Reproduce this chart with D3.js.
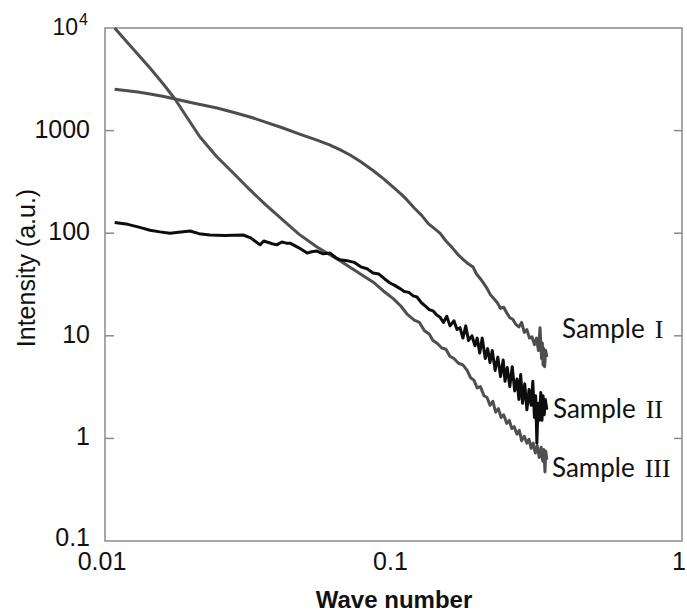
<!DOCTYPE html>
<html lang="en">
<head>
  <meta charset="utf-8">
  <title>Intensity vs wave number</title>
  <script type="text/javascript" src="https://cdn.jsdelivr.net/npm/d3@7"></script>
  <style>
    body { margin: 0; background: #fff; }
    svg { display: block; }
  </style>
</head>
<body>
<script type="text/javascript">
// wave number (x) and intensity (y)
let qI = [0.0108, 0.0130, 0.01432, 0.0160, 0.01748, 0.0200, 0.02445, 0.0280, 0.03182, 0.0360,
  0.0414, 0.0470, 0.0543, 0.0600, 0.0652, 0.0707, 0.0770, 0.0849, 0.0920, 0.1000,
  0.1060, 0.1114, 0.1180, 0.1250, 0.1320, 0.1380, 0.1449, 0.1520, 0.1600, 0.1680,
  0.1750, 0.1820, 0.1886, 0.1940, 0.2000, 0.2060, 0.2110, 0.2170, 0.2230, 0.2290,
  0.2350, 0.2410, 0.2470, 0.2530, 0.2590, 0.2650, 0.2720, 0.2780, 0.2840, 0.2900,
  0.2960, 0.3020, 0.3080, 0.3130, 0.3180, 0.3220, 0.3260, 0.3280, 0.3300, 0.3320,
  0.3340, 0.3370, 0.3400];
let sampleI = [2530, 2380, 2275, 2150, 2032, 1870, 1660, 1500, 1358, 1210,
  1060, 930, 809, 726, 652, 578, 497, 408, 342, 280,
  242, 211, 176, 150, 124, 112, 100, 84, 72, 61,
  55, 50, 46.9, 40, 36, 32, 29, 25, 23, 21,
  18.5, 19, 16.7, 15, 14.5, 13, 12.2, 13.5, 10.8, 11.5,
  9.5, 9.8, 8.2, 9.5, 7.2, 12, 6.0, 8.5, 5.2, 7.5,
  5.0, 7.2, 6.2];

let qII = [0.0108, 0.0120, 0.0132, 0.01432, 0.0155, 0.0168, 0.0180, 0.0197, 0.0212, 0.0231,
  0.0260, 0.0301, 0.0320, 0.0345, 0.0355, 0.0364, 0.0380, 0.0394, 0.0410, 0.0425,
  0.0438, 0.0470, 0.0502, 0.0520, 0.0543, 0.0570, 0.0603, 0.0630, 0.0652, 0.0690,
  0.0730, 0.0770, 0.0810, 0.0849, 0.0890, 0.0930, 0.0972, 0.1010, 0.1050, 0.1090,
  0.1130, 0.1170, 0.1206, 0.1250, 0.1290, 0.1330, 0.1370, 0.1410, 0.1449, 0.1490,
  0.1530, 0.1570, 0.1620, 0.1660, 0.1700, 0.1740, 0.1780, 0.1820, 0.1870, 0.1916,
  0.1950, 0.1990, 0.2030, 0.2080, 0.2120, 0.2160, 0.2200, 0.2250, 0.2300, 0.2350,
  0.2400, 0.2435, 0.2480, 0.2530, 0.2580, 0.2630, 0.2680, 0.2720, 0.2760, 0.2800,
  0.2850, 0.2900, 0.2950, 0.3000, 0.3040, 0.3080, 0.3110, 0.3140, 0.3170, 0.3200,
  0.3240, 0.3270, 0.3300, 0.3330, 0.3360, 0.3400];
let sampleII = [127, 122, 114, 107, 103, 100, 102, 105, 99, 96,
  95, 96, 90, 77, 84, 82, 79, 77, 82, 80,
  80, 72, 64, 66, 67, 63, 64, 58, 55, 54,
  52, 47, 45, 41, 40, 36, 32.7, 31, 29, 27,
  26.5, 24.5, 23.9, 21, 19.5, 18, 17.5, 16, 15.2, 13.5,
  15.5, 12.5, 14, 11.5, 12, 9.5, 12.5, 9, 10, 8,
  9.5, 6.8, 9.5, 6.0, 7.5, 5.5, 7.2, 4.6, 6.2, 4.0,
  5.8, 3.6, 4.9, 3.2, 5.0, 2.9, 3.8, 2.4, 4.2, 2.2,
  3.4, 1.9, 3.0, 2.1, 3.6, 1.6, 2.6, 0.9, 2.2, 1.5,
  2.8, 1.5, 2.6, 1.7, 2.4, 1.9];

let qIII = [0.0108, 0.0120, 0.0132, 0.01432, 0.0160, 0.01748, 0.0190, 0.02134, 0.02445, 0.0280,
  0.03182, 0.0360, 0.0414, 0.0470, 0.0543, 0.0600, 0.0652, 0.0720, 0.0780, 0.0849,
  0.0920, 0.1000, 0.1060, 0.1114, 0.1180, 0.1230, 0.1280, 0.1330, 0.1370, 0.1420,
  0.1470, 0.1520, 0.1570, 0.1620, 0.1680, 0.1740, 0.1800, 0.1850, 0.1900, 0.1950,
  0.2000, 0.2060, 0.2110, 0.2160, 0.2210, 0.2260, 0.2310, 0.2360, 0.2410, 0.2470,
  0.2520, 0.2570, 0.2620, 0.2680, 0.2730, 0.2780, 0.2840, 0.2900, 0.2950, 0.3000,
  0.3050, 0.3100, 0.3150, 0.3200, 0.3250, 0.3290, 0.3320, 0.3350, 0.3370, 0.3400];
let sampleIII = [10000, 7150, 5270, 4074, 2800, 2032, 1420, 866, 553, 380,
  264, 190, 134, 98, 73.4, 62, 54, 45, 39, 33.5,
  27.5, 22.9, 19.5, 16.3, 14.2, 13.5, 11.2, 10.4, 9.0, 8.4,
  7.6, 7.4, 6.3, 6.0, 5.4, 5.2, 4.6, 3.9, 3.7, 3.1,
  3.2, 2.6, 2.5, 2.1, 2.3, 1.8, 1.95, 1.6, 1.7, 1.4,
  1.5, 1.25, 1.3, 1.1, 1.2, 0.95, 1.05, 0.9, 0.98, 0.8,
  0.9, 0.72, 0.85, 0.65, 0.82, 0.6, 0.78, 0.47, 0.75, 0.62];

let seriesNames = ["Sample I", "Sample II", "Sample III"];
let seriesColors = ["#4d4d4d", "#0d0d0d", "#505050"];
let yTicks = [0.1, 1, 10, 100, 1000, 10000];
let yTickLabels = ["0.1", "1", "10", "100", "1000", "10^4"];
let xTicks = [0.01, 0.1, 1];
let xTickLabels = ["0.01", "0.1", "1"];

function drawChart() {
  let w = 687;
  let h = 614;
  let left = 105, right = 682, top = 28, bottom = 541;

  let xScale = d3.scaleLog().domain([0.01, 1]).range([left, right]);
  let yScale = d3.scaleLog().domain([0.1, 10000]).range([bottom, top]);

  let svg = d3.select("body").append("svg")
    .attr("width", w)
    .attr("height", h)
    .style("font-family", "'Liberation Sans', Arial, sans-serif");

  // frame
  svg.append("rect")
    .attr("x", left).attr("y", top)
    .attr("width", right - left).attr("height", bottom - top)
    .attr("fill", "none")
    .attr("stroke", "#8a8a8a")
    .attr("stroke-width", 1.5);

  // inward ticks on left and right sides
  let inner = yTicks.filter(function(d) { return d > 0.1 && d < 10000; });
  svg.append("g").selectAll("line")
    .data(inner).enter().append("line")
    .attr("x1", left).attr("x2", left + 9)
    .attr("y1", function(d) { return yScale(d); })
    .attr("y2", function(d) { return yScale(d); })
    .attr("stroke", "#8a8a8a").attr("stroke-width", 1.5);
  svg.append("g").selectAll("line")
    .data(inner).enter().append("line")
    .attr("x1", right - 8).attr("x2", right)
    .attr("y1", function(d) { return yScale(d); })
    .attr("y2", function(d) { return yScale(d); })
    .attr("stroke", "#8a8a8a").attr("stroke-width", 1.5);

  // y tick labels
  let ylab = svg.append("g").attr("fill", "#111").attr("font-size", 25);
  yTicks.forEach(function(t, i) {
    let lab = yTickLabels[i];
    let y = yScale(t);
    if (lab.indexOf("^") > 0) {
      let parts = lab.split("^");
      ylab.append("text")
        .attr("x", 78).attr("y", y + 7)
        .attr("text-anchor", "end")
        .attr("font-size", 23)
        .text(parts[0]);
      ylab.append("text")
        .attr("x", 79).attr("y", y - 3)
        .attr("font-size", 16)
        .text(parts[1]);
    } else {
      ylab.append("text")
        .attr("x", 90)
        .attr("y", t === 0.1 ? y + 5 : y + 7)
        .attr("text-anchor", "end")
        .text(lab);
    }
  });

  // x tick labels
  svg.append("g").attr("fill", "#111").attr("font-size", 25)
    .selectAll("text")
    .data(xTicks).enter().append("text")
    .attr("x", function(d) { return xScale(d) - 3; })
    .attr("y", 570)
    .attr("text-anchor", "middle")
    .text(function(d, i) { return xTickLabels[i]; });

  // axis titles
  svg.append("text")
    .attr("x", 394).attr("y", 608)
    .attr("text-anchor", "middle")
    .attr("font-size", 24)
    .attr("font-weight", "bold")
    .attr("fill", "#111")
    .text("Wave number");

  svg.append("text")
    .attr("transform", "translate(35,268) rotate(-90)")
    .attr("text-anchor", "middle")
    .attr("font-size", 25)
    .attr("fill", "#111")
    .text("Intensity (a.u.)");

  // curves
  let line = d3.line()
    .x(function(d) { return xScale(d[0]); })
    .y(function(d) { return yScale(d[1]); });

  let series = [
    d3.zip(qI, sampleI),
    d3.zip(qII, sampleII),
    d3.zip(qIII, sampleIII)
  ];
  // draw III first, then I, then II on top
  [2, 0, 1].forEach(function(k) {
    svg.append("path")
      .datum(series[k])
      .attr("d", line)
      .attr("fill", "none")
      .attr("stroke", seriesColors[k])
      .attr("stroke-width", 3)
      .attr("stroke-linejoin", "round");
  });

  // series labels
  let labelPos = [[562, 338], [553, 418], [552, 477]];
  seriesNames.forEach(function(name, i) {
    let parts = name.split(" ");
    let t = svg.append("text")
      .attr("x", labelPos[i][0]).attr("y", labelPos[i][1])
      .attr("font-size", 26)
      .attr("fill", "#111");
    t.append("tspan").attr("font-family", "Lato, 'Open Sans', sans-serif").text(parts[0]);
    t.append("tspan").attr("dx", 10).attr("font-family", "'Liberation Serif', serif").text(parts[1]);
  });
}

drawChart();
</script>
</body>
</html>
